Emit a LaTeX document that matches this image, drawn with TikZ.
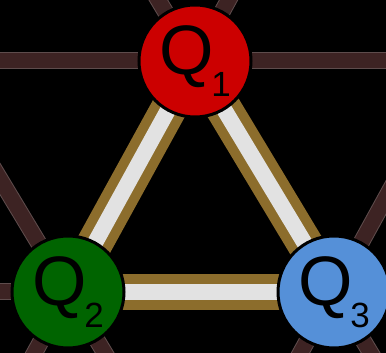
\documentclass[tikz,border=0pt]{standalone}
\usepackage{fontspec}
\setmainfont{Liberation Sans}
\usetikzlibrary{calc}
\definecolor{qred}{HTML}{CC0000}
\definecolor{qgreen}{HTML}{006400}
\definecolor{qblue}{HTML}{5590D8}
\definecolor{gridbrown}{HTML}{3D2323}
\definecolor{gridrim}{HTML}{5E4C4C}
\definecolor{couplgold}{HTML}{8C6D2C}
\definecolor{couplwhite}{HTML}{E2E2E2}
\pgfdeclarelayer{bgfill}
\pgfdeclarelayer{links}
\pgfsetlayers{bgfill,links,main}
\newcommand{\qlabel}[1]{\fontsize{70}{70}\selectfont Q\kern-2pt\raisebox{-22pt}{\fontsize{35}{35}\selectfont #1}}
\begin{document}
\begin{tikzpicture}[x=1pt, y=1pt,
    qubit/.style={circle, draw=black, line width=3pt, minimum size=112pt, inner sep=0pt},
    gridline/.style={draw=gridrim, line width=1pt, double=gridbrown, double distance=15pt},
    coupler/.style={draw=couplgold, line width=10pt, double=couplwhite, double distance=16pt}]
    \useasboundingbox (0,0) rectangle (386,353);
    % qubits
    \node[qubit, fill=qred] (q1) at (195,292) {\qlabel{1}};
    \node[qubit, fill=qgreen] (q2) at (68,61) {\qlabel{2}};
    \node[qubit, fill=qblue] (q3) at (334,61) {\qlabel{3}};
    % neighbours of the lattice outside the frame
    \coordinate (n1l) at ($(q1.center)+(q2.center)-(q3.center)$);
    \coordinate (n1r) at ($(q1.center)+(q3.center)-(q2.center)$);
    \coordinate (n1ul) at ($(q1.center)+(q1.center)-(q3.center)$);
    \coordinate (n1ur) at ($(q1.center)+(q1.center)-(q2.center)$);
    \coordinate (n2l) at ($(q2.center)+(q2.center)-(q3.center)$);
    \coordinate (n2ul) at ($(q2.center)+(q1.center)-(q3.center)$);
    \coordinate (n2dl) at ($(q2.center)+(q2.center)-(q1.center)$);
    \coordinate (n2dr) at ($(q2.center)+(q3.center)-(q1.center)$);
    \coordinate (n3r) at ($(q3.center)+(q3.center)-(q2.center)$);
    \coordinate (n3ur) at ($(q3.center)+(q1.center)-(q2.center)$);
    \coordinate (n3dr) at ($(q3.center)+(q3.center)-(q1.center)$);
    \coordinate (n3dl) at ($(q3.center)+(q2.center)-(q1.center)$);
    \begin{pgfonlayer}{bgfill}
        \fill[black] (0,0) rectangle (386,353);
    \end{pgfonlayer}
    \begin{pgfonlayer}{links}
        \clip (0,0) rectangle (386,353);
        \foreach \q/\n in {q1/n1l, q1/n1r, q1/n1ul, q1/n1ur, q2/n2l, q2/n2ul, q2/n2dl, q2/n2dr,
                           q3/n3r, q3/n3ur, q3/n3dr, q3/n3dl} {
            \draw[gridline] (\q.center) -- (\n);
        }
        \foreach \a/\b in {q1/q2, q2/q3, q3/q1} {
            \draw[coupler] (\a.center) -- (\b.center);
        }
    \end{pgfonlayer}
\end{tikzpicture}
\end{document}
